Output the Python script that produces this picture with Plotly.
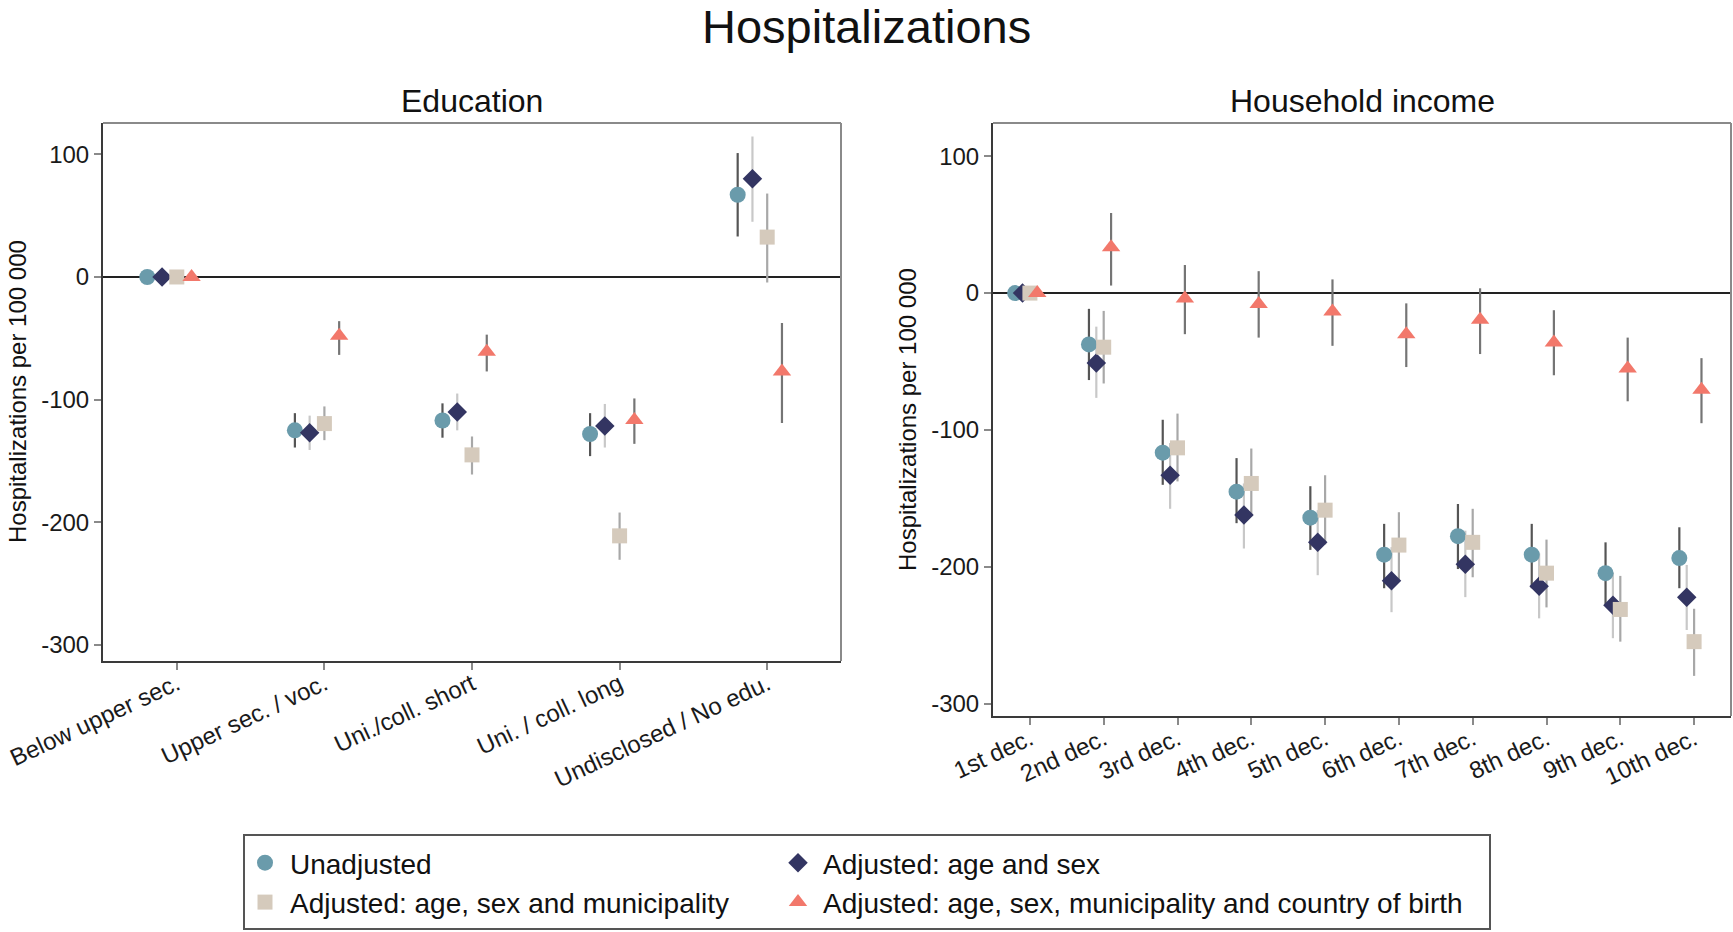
import plotly.graph_objects as go

# ---------------- data ----------------
edu_cats = ["Below upper sec.", "Upper sec. / voc.", "Uni./coll. short",
            "Uni. / coll. long", "Undisclosed / No edu."]
inc_cats = ["1st dec.", "2nd dec.", "3rd dec.", "4th dec.", "5th dec.",
            "6th dec.", "7th dec.", "8th dec.", "9th dec.", "10th dec."]

series_names = ["Unadjusted", "Adjusted: age and sex",
                "Adjusted: age, sex and municipality",
                "Adjusted: age, sex, municipality and country of birth"]

# Education
edu_unadj = [0, -125, -117, -128, 67]
edu_unadj_lo = [0, -139, -131, -146, 33]
edu_unadj_hi = [0, -111, -103, -111, 101]
edu_agesex = [0, -127, -110, -121.5, 80]
edu_agesex_lo = [0, -141, -125, -139, 45]
edu_agesex_hi = [0, -113, -95, -103.5, 114.5]
edu_muni = [0, -119.5, -145, -211, 32.5]
edu_muni_lo = [0, -133, -161, -230.5, -4.5]
edu_muni_hi = [0, -105.5, -130, -192, 68]
edu_cob = [0, -48, -61, -116.5, -77]
edu_cob_lo = [0, -63.5, -77, -136, -119]
edu_cob_hi = [0, -36, -47, -99, -37.5]

# Household income
inc_unadj = [0, -37.5, -116.5, -145, -164, -191, -177.5, -191, -204.5, -193.5]
inc_unadj_lo = [0, -63.5, -140, -168, -187.5, -215.5, -201.5, -215.5, -227.5, -215.5]
inc_unadj_hi = [0, -11.5, -92.5, -120.5, -141, -168.5, -154, -168.5, -182, -171]
inc_agesex = [0, -51, -133, -162, -182, -210, -198, -214, -228, -222]
inc_agesex_lo = [0, -76.5, -157.5, -186.5, -206, -233, -222, -237.5, -252, -246]
inc_agesex_hi = [0, -24.5, -109.5, -139, -158.5, -185.5, -173.5, -190, -204, -198.5]
inc_muni = [0, -39.5, -113, -139, -158.5, -184, -182, -204.5, -231, -254.5]
inc_muni_lo = [0, -66, -137.5, -163, -183.5, -209.5, -207.5, -229.5, -254.5, -279.5]
inc_muni_hi = [0, -13, -88, -113.5, -133, -160, -157.5, -180, -206.5, -230.5]
inc_cob = [0, 33.5, -4, -8, -13.5, -30, -19.5, -36, -55, -70.5]
inc_cob_lo = [0, 5.5, -30, -32.5, -38.5, -54, -44.5, -60, -79, -95]
inc_cob_hi = [0, 58.5, 20.5, 16, 10, -7.5, 3.5, -12.5, -32.5, -47.5]

ytick_vals = [100, 0, -100, -200, -300]
ytick_text = ["100", "0", "-100", "-200", "-300"]

# ---------------- styles ----------------
FONT = "Liberation Sans, Arial, sans-serif"
W, H = 1733, 932
colors = ["#6a9bab", "#333562", "#d5cabc", "#f2786b"]
ci_colors = ["#555555", "#c8c8c8", "#a8a8a8", "#757575"]
symbols = ["circle", "diamond", "square", "triangle-up"]
sizes = [16, 15, 15, 16]
offsets = [-0.2, -0.1, 0.0, 0.1]
legend_of = ["legend", "legend2", "legend", "legend2"]

edu_series = [(edu_unadj, edu_unadj_lo, edu_unadj_hi),
              (edu_agesex, edu_agesex_lo, edu_agesex_hi),
              (edu_muni, edu_muni_lo, edu_muni_hi),
              (edu_cob, edu_cob_lo, edu_cob_hi)]
inc_series = [(inc_unadj, inc_unadj_lo, inc_unadj_hi),
              (inc_agesex, inc_agesex_lo, inc_agesex_hi),
              (inc_muni, inc_muni_lo, inc_muni_hi),
              (inc_cob, inc_cob_lo, inc_cob_hi)]

fig = go.Figure()

panels = [(edu_cats, edu_series, "x", "y"), (inc_cats, inc_series, "x2", "y2")]

# error bars first (beneath all markers)
for cats, series, xa, ya in panels:
    for k, (v, lo, hi) in enumerate(series):
        xs = [i + 1 + offsets[k] for i in range(len(cats))]
        fig.add_trace(go.Scatter(
            x=xs, y=v, mode="markers", xaxis=xa, yaxis=ya,
            marker=dict(size=0.1, opacity=0, color=colors[k]),
            error_y=dict(type="data", symmetric=False,
                         array=[h - a for h, a in zip(hi, v)],
                         arrayminus=[a - l for a, l in zip(v, lo)],
                         width=0, thickness=2.2, color=ci_colors[k]),
            showlegend=False, hoverinfo="skip"))

# markers
for p, (cats, series, xa, ya) in enumerate(panels):
    for k, (v, lo, hi) in enumerate(series):
        xs = [i + 1 + offsets[k] for i in range(len(cats))]
        fig.add_trace(go.Scatter(
            x=xs, y=v, mode="markers", xaxis=xa, yaxis=ya,
            name=series_names[k], legend=legend_of[k],
            marker=dict(symbol=symbols[k], size=sizes[k], color=colors[k],
                        line=dict(width=0)),
            showlegend=(p == 0)))

def px_x(v):
    return v / W

def px_y(v):
    return 1 - v / H

axis_common = dict(showline=True, linecolor="#3a3a3a", linewidth=2,
                   ticks="outside", ticklen=7, tickwidth=2, tickcolor="#8a8a8a",
                   showgrid=False, automargin=False,
                   tickfont=dict(family=FONT, size=24, color="#1a1a1a"))

legend_common = dict(xanchor="left", yanchor="top", orientation="v",
                     bgcolor="rgba(0,0,0,0)", borderwidth=0,
                     font=dict(family=FONT, size=28, color="#111111"),
                     itemwidth=40, tracegroupgap=0)

fig.update_layout(
    width=W, height=H,
    margin=dict(l=0, r=0, t=0, b=0, autoexpand=False),
    paper_bgcolor="white", plot_bgcolor="white",
    font=dict(family=FONT, color="#111111"),
    xaxis=dict(domain=[px_x(103), px_x(841)], range=[0.5, 5.5], anchor="y",
               tickvals=list(range(1, len(edu_cats) + 1)), ticktext=edu_cats,
               tickangle=-25, ticklabelstandoff=-9, zeroline=False, **axis_common),
    yaxis=dict(domain=[px_y(661), px_y(123)], range=[-313, 125.5], anchor="x",
               tickvals=ytick_vals, ticktext=ytick_text,
               zeroline=True, zerolinecolor="#222222", zerolinewidth=1.6,
               **axis_common),
    xaxis2=dict(domain=[px_x(993), px_x(1731)], range=[0.5, 10.5], anchor="y2",
                tickvals=list(range(1, len(inc_cats) + 1)), ticktext=inc_cats,
                tickangle=-25, ticklabelstandoff=-9, zeroline=False, **axis_common),
    yaxis2=dict(domain=[px_y(716), px_y(123)], range=[-308.8, 124.2], anchor="x2",
                tickvals=ytick_vals, ticktext=ytick_text,
                zeroline=True, zerolinecolor="#222222", zerolinewidth=1.6,
                **axis_common),
    legend=dict(x=px_x(240), y=px_y(838), **legend_common),
    legend2=dict(x=px_x(773), y=px_y(838), **legend_common),
    showlegend=True,
)

# frame top / right (lighter gray) for both panels
for xa, ya in [("x", "y"), ("x2", "y2")]:
    fig.add_shape(type="line", xref=f"{xa} domain", yref=f"{ya} domain",
                  x0=0, x1=1, y0=1, y1=1, line=dict(color="#8a8a8a", width=2))
    fig.add_shape(type="line", xref=f"{xa} domain", yref=f"{ya} domain",
                  x0=1, x1=1, y0=0, y1=1, line=dict(color="#8a8a8a", width=2))

# legend box
fig.add_shape(type="rect", xref="paper", yref="paper",
              x0=px_x(244), x1=px_x(1490), y0=px_y(929), y1=px_y(835),
              line=dict(color="#555555", width=2), fillcolor="rgba(0,0,0,0)")

# titles
fig.add_annotation(text="Hospitalizations", x=0.5, y=px_y(27), xref="paper", yref="paper",
                   xanchor="center", yanchor="middle", showarrow=False,
                   font=dict(family=FONT, size=47, color="#111111"))
fig.add_annotation(text="Education", x=px_x(472), y=px_y(101), xref="paper", yref="paper",
                   xanchor="center", yanchor="middle", showarrow=False,
                   font=dict(family=FONT, size=32, color="#111111"))
fig.add_annotation(text="Household income", x=px_x(1362), y=px_y(101), xref="paper", yref="paper",
                   xanchor="center", yanchor="middle", showarrow=False,
                   font=dict(family=FONT, size=32, color="#111111"))
fig.add_annotation(text="Hospitalizations per 100 000", x=px_x(17), y=px_y(392),
                   xref="paper", yref="paper", xanchor="center", yanchor="middle",
                   textangle=-90, showarrow=False,
                   font=dict(family=FONT, size=24, color="#111111"))
fig.add_annotation(text="Hospitalizations per 100 000", x=px_x(907), y=px_y(420),
                   xref="paper", yref="paper", xanchor="center", yanchor="middle",
                   textangle=-90, showarrow=False,
                   font=dict(family=FONT, size=24, color="#111111"))

fig.write_html("out.html")
